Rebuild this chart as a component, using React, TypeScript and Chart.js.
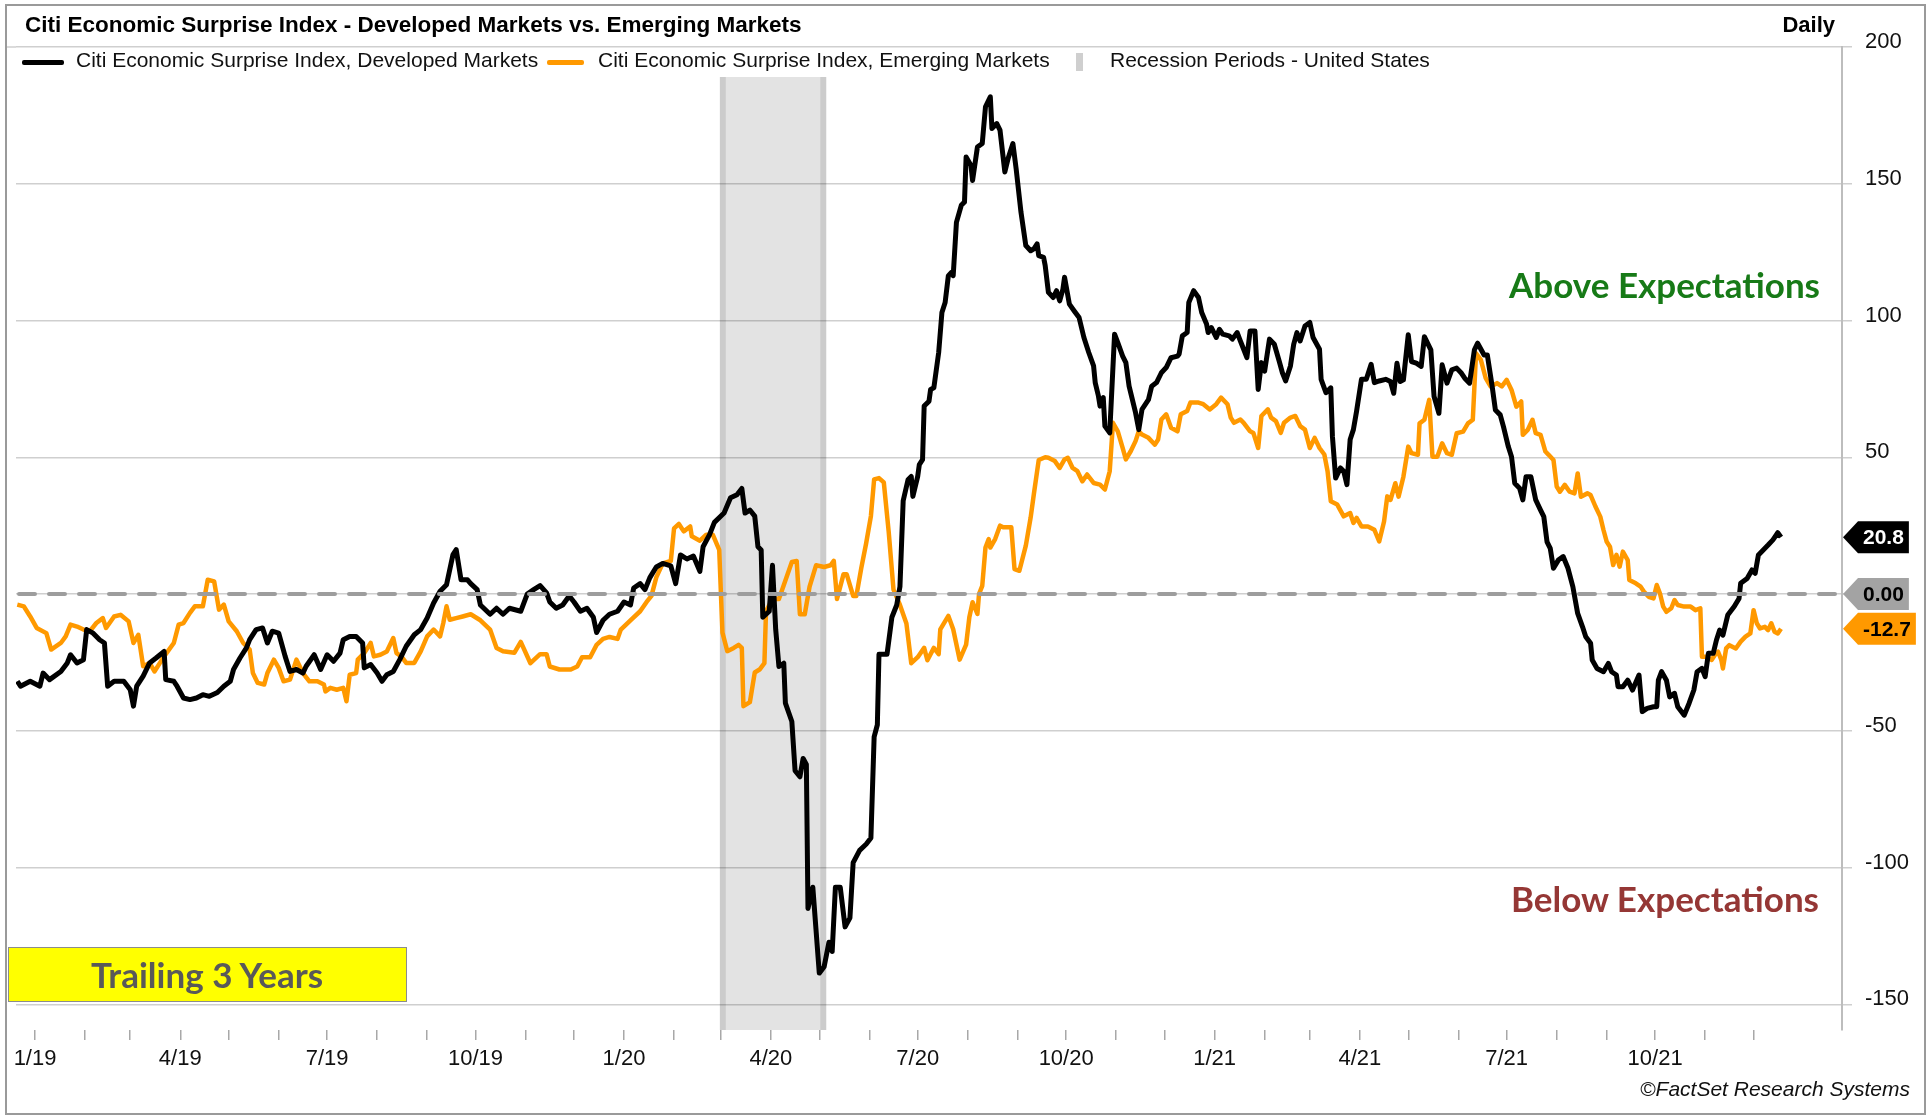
import React, { useEffect, useRef } from "react";
import { Chart, registerables } from "chart.js";

Chart.register(...registerables);

// Day offsets are counted from 2019-01-01 (day 0).
const dmDays = [
  -11, -9, -3, 3, 5, 9, 16, 20, 22, 26, 30, 32, 36, 40, 43, 45, 49, 55, 59, 61, 63, 67, 71, 75, 80, 81, 86, 88, 92, 96,
  100, 104, 108, 113, 117, 121, 123, 127, 131, 133, 137, 141, 144, 147, 151, 155, 158, 162, 166, 168, 173, 177, 181, 185, 189, 191, 195, 199, 203, 204,
  208, 212, 215, 218, 222, 226, 230, 235, 239, 243, 247, 251, 255, 259, 261, 264, 268, 270, 274, 276, 282, 286, 290, 294, 301, 305, 309, 313, 317, 319,
  323, 327, 331, 334, 338, 342, 346, 348, 352, 356, 361, 365, 369, 371, 375, 378, 381, 385, 389, 394, 397, 400, 404, 408, 412, 414, 418, 421, 427, 431,
  435, 438, 440, 443, 446, 448, 450, 451, 455, 457, 459, 461, 464, 465, 469, 471, 474, 476, 478, 479, 482, 486, 489, 492, 494, 496, 499, 502, 505, 507,
  511, 515, 518, 520, 522, 523, 528, 531, 534, 536, 538, 541, 543, 544, 547, 548, 550, 551, 554, 555, 557, 560, 562, 564, 566, 568, 569, 571, 574, 576,
  577, 580, 581, 584, 587, 589, 592, 593, 596, 598, 601, 603, 606, 608, 611, 614, 617, 619, 621, 622, 625, 626, 628, 631, 633, 635, 637, 638, 641, 644,
  647, 650, 653, 656, 657, 659, 660, 662, 663, 666, 669, 671, 674, 676, 678, 682, 684, 686, 690, 692, 695, 698, 701, 704, 708, 709, 711, 714, 715, 718,
  721, 723, 726, 727, 729, 732, 734, 736, 740, 742, 745, 747, 749, 751, 753, 756, 758, 760, 762, 765, 768, 771, 773, 775, 778, 780, 782, 784, 787, 790,
  792, 796, 797, 800, 803, 804, 806, 809, 811, 813, 815, 817, 819, 822, 825, 828, 830, 833, 837, 840, 842, 844, 846, 848, 851, 853, 856, 859, 861, 865,
  867, 870, 872, 875, 878, 881, 884, 886, 889, 892, 894, 898, 900, 903, 905, 908, 910, 913, 915, 917, 920, 922, 924, 927, 930, 933, 935, 937, 939, 941,
  944, 947, 950, 953, 956, 959, 961, 964, 965, 968, 972, 975, 977, 980, 981, 984, 987, 990, 994, 996, 999, 1003, 1005, 1006, 1008, 1011, 1013, 1016, 1018, 1022,
  1025, 1028, 1030, 1033, 1035, 1037, 1040, 1042, 1044, 1046, 1049, 1053, 1056, 1057, 1061, 1064, 1066, 1068, 1071, 1074, 1077, 1080, 1082,
];
const dmValues = [
  -31.9, -33.7, -31.9, -33.7, -28.9, -31.3, -28.3, -25.2, -22.2, -25.2, -24, -13, -14.3, -16.7, -17.9, -33.7, -31.9, -31.9, -35, -41, -33.7, -30, -25.2, -23.4, -21, -31.3, -31.9, -33.7, -38, -38.6,
  -38, -36.8, -37.4, -36, -33.7, -31.9, -27.6, -23.4, -19.7, -16.7, -13, -12.4, -17.9, -13.6, -14.3, -22.8, -28.3, -27.6, -28.9, -26.4, -22.2, -27.6, -22.2, -24.6, -21.6, -16.7, -15.5, -15.5, -17.9, -27,
  -25.8, -28.9, -31.9, -29.5, -28.3, -24, -19.1, -14.9, -13, -8.8, -3.3, 1, 3.4, 14.4, 16.2, 5.2, 5.2, 3.8, 1.6, -4, -7.4, -5.2, -7.4, -5.2, -6.3, 0, 1.6, 3.1, 0.4, -2.9,
  -5.2, -4, -0.7, -2.9, -6.3, -5.2, -8.5, -14.1, -9.6, -7.4, -6.3, -2.9, -4, 2.2, 3.8, 1.6, 6, 9.9, 11.2, 10.3, 3.8, 14.3, 12.8, 13.9, 8.3, 17.3, 21.7, 26.2, 29.6, 35.2,
  36.3, 38.6, 29.6, 30.7, 28.5, 17.3, 16.1, -8.5, -6.3, 10.5, -13, -26.5, -25.3, -39.9, -46.6, -64.6, -66.8, -60.1, -62.3, -115, -107.2, -138.6, -136.3, -127.3, -130.7, -107.2, -107.2, -121.7, -118.4, -98.2,
  -93.7, -91.5, -89.2, -52.2, -47.8, -22, -22, -8.5, -4, 2.7, 34.1, 41.8, 43, 35.7, 43, 47.3, 49.1, 68.7, 70.5, 74.8, 75.4, 88.3, 102.9, 106.6, 116.4, 117.6, 116.4, 135.9, 142.1, 143.3,
  159.8, 156.7, 151.2, 163.4, 164.7, 178.1, 181.8, 170.2, 172, 169.6, 154.3, 159.2, 164.7, 155.5, 139.6, 127.4, 125.5, 126.2, 128, 123.7, 123.1, 120.1, 110.3, 108.4, 110.9, 107.2, 111.5, 115.8, 106, 103.5,
  101.1, 93.8, 88.3, 83.4, 77.3, 72.4, 68.7, 71.8, 61.4, 58.9, 95, 91.9, 87, 84.6, 76, 66.3, 60.1, 67.5, 71.1, 76, 77.3, 80.9, 82.8, 86.4, 87, 87.7, 94.4, 95.6, 106.6, 110.9,
  108.4, 102.9, 98.7, 95.6, 97.4, 93.8, 96.8, 95, 94.4, 93.2, 95.6, 92.5, 89.5, 86.4, 96.2, 96.2, 74.8, 84.6, 81.5, 93.2, 91.3, 85.2, 80.9, 77.9, 83.4, 91.3, 95.6, 92.5, 98, 99.3,
  93.8, 89.5, 78.5, 73.6, 75.4, 57.7, 42.4, 46.1, 44.9, 40, 56.5, 60.1, 66.9, 78.5, 78.5, 84, 77.3, 77.9, 78.5, 77.7, 73.4, 84.4, 77.7, 78.3, 94.8, 85, 84.4, 83.2, 94.1, 89.3,
  72.2, 66.1, 83.8, 77.1, 82, 82.6, 80.7, 78.9, 77.1, 89.3, 91.7, 87.4, 87.4, 75.9, 67.3, 65.5, 61.2, 53.9, 50.2, 40.5, 38.7, 34.4, 42.9, 42.9, 34.4, 30.7, 28.3, 19.1, 16.7, 9.4,
  12.4, 13.7, 9.4, 2.7, -7.1, -12, -15.6, -18, -24.1, -27.2, -28.4, -25.4, -28.4, -29.6, -33.9, -33.9, -31.5, -35.1, -29.6, -43, -41.8, -41.2, -41.2, -31.5, -28.4, -31.5, -37.6, -36.3, -41.2, -44.3,
  -40, -35.1, -28.4, -27.2, -30.2, -21.7, -21.7, -16.8, -13.2, -15, -7.7, -4.6, -1.6, 3.9, 5.7, 8.8, 7.6, 14.3, 16.1, 17.9, 19.8, 22.4, 20.8,
];

const emDays = [
  -11, -7, -3, 1, 7, 10, 16, 19, 22, 26, 30, 34, 38, 42, 44, 49, 53, 58, 61, 64, 67, 71, 74, 80, 86, 89, 92, 96, 99, 104,
  107, 111, 114, 117, 120, 125, 129, 133, 135, 138, 142, 144, 148, 151, 154, 158, 162, 166, 170, 175, 179, 180, 183, 187, 191, 193, 195, 199, 200, 204,
  208, 210, 214, 218, 222, 224, 227, 230, 235, 239, 243, 247, 251, 253, 255, 257, 261, 265, 270, 276, 282, 286, 290, 297, 301, 307, 313, 317, 319, 325,
  332, 336, 339, 344, 348, 352, 356, 361, 363, 369, 375, 379, 382, 385, 389, 394, 396, 399, 402, 406, 407, 412, 416, 420, 424, 426, 429, 433, 436, 438,
  439, 443, 446, 449, 452, 453, 457, 461, 465, 469, 472, 474, 477, 480, 484, 489, 493, 495, 497, 501, 503, 507, 509, 512, 515, 518, 520, 523, 526, 529,
  532, 536, 540, 543, 547, 551, 553, 557, 560, 561, 566, 569, 573, 577, 579, 581, 584, 585, 587, 589, 591, 592, 595, 598, 600, 605, 607, 610, 614, 617,
  619, 622, 626, 628, 632, 635, 638, 640, 643, 646, 649, 652, 656, 660, 663, 666, 668, 671, 674, 676, 679, 682, 684, 686, 690, 694, 696, 698, 701, 704,
  708, 710, 714, 716, 721, 724, 728, 732, 735, 739, 741, 743, 747, 749, 753, 755, 758, 760, 764, 766, 769, 772, 774, 778, 781, 784, 787, 790, 793, 796,
  799, 801, 803, 807, 811, 815, 817, 819, 822, 826, 830, 833, 836, 838, 840, 843, 845, 848, 851, 853, 857, 858, 861, 864, 866, 869, 872, 875, 878, 881,
  885, 888, 891, 893, 896, 899, 902, 906, 909, 912, 915, 918, 921, 922, 925, 928, 930, 933, 936, 938, 941, 943, 945, 948, 951, 954, 956, 958, 962, 964,
  967, 970, 972, 974, 976, 978, 980, 982, 984, 987, 988, 992, 995, 997, 1000, 1003, 1005, 1007, 1009, 1011, 1014, 1016, 1018, 1022, 1026, 1029, 1032, 1033, 1036, 1039,
  1041, 1043, 1045, 1046, 1048, 1050, 1054, 1057, 1060, 1063, 1065, 1067, 1069, 1072, 1074, 1076, 1078, 1080, 1082,
];
const emValues = [
  -3.9, -4.5, -8.2, -12.4, -14.3, -20.3, -17.9, -15.5, -11.2, -11.9, -13, -13.6, -10.6, -8.8, -12.4, -8.2, -7.6, -10, -17.9, -14.9, -26.4, -25.2, -28.3, -22.8, -17.9, -11.2, -10.6, -6.9, -4.5, -4.5,
  5.2, 4.6, -5.7, -3.9, -10, -13.6, -17.9, -20.3, -28.9, -32.5, -33.1, -28.9, -24, -27, -31.9, -31.3, -24, -28.9, -31.9, -31.9, -33.1, -35.6, -34.3, -35, -34.3, -39.2, -29.5, -28.9, -24, -21.6,
  -17.9, -22.8, -22.2, -21, -16.1, -21.6, -22.8, -25.2, -25.2, -21, -15.5, -13, -15.5, -10.6, -4.5, -9.4, -8.8, -8.2, -7.4, -9.6, -13, -19.7, -20.9, -21.5, -17.5, -25.3, -22, -22, -26.5, -27.6,
  -27.6, -26.5, -23.1, -23.1, -18.6, -16.4, -15.7, -16.4, -13, -9.6, -6.3, -2.9, -0.7, 6.1, 11.2, 12.1, 24, 25.6, 22.9, 24.7, 21.1, 19.5, 21.7, 21.7, 16.1, -14.1, -20.9, -19.7, -18.6, -19.7,
  -41, -39.5, -28.7, -27.6, -25.3, -6.3, -1.8, -1.8, 4.9, 11.7, 12.1, -7.4, -7.4, 2.7, 10.5, 9.9, 10.5, 12.1, -1.8, 7.2, 7.2, -0.7, -0.7, 9.4, 18.4, 28.5, 41.9, 42.4, 40.8, 22.9,
  1.6, -4, -10.8, -25.3, -23.1, -19.7, -24.2, -19.7, -22, -12.9, -8, -12.9, -24, -18.5, -8.5, -3, -7.3, 0, 3, 17, 20.1, 17, 20.1, 25, 24.4, 24.4, 9.1, 8.5, 17.7, 28,
  36.6, 49, 50, 49.8, 48.6, 46.1, 49.2, 49.8, 46.1, 44.9, 41.2, 43.7, 40.6, 40, 38.2, 44.9, 62.6, 59.5, 53.4, 49.2, 52.2, 55.9, 59.5, 58.3, 57.1, 54.6, 56.5, 63.8, 65.7, 60.8,
  59.5, 65.7, 66.9, 70, 70, 69.4, 67.5, 69.4, 71.8, 69.4, 64.5, 62.6, 63.8, 62.6, 59.5, 58.9, 53.4, 65.1, 67.5, 64.5, 63.2, 58.9, 62.6, 64.5, 65.1, 61.4, 60.1, 53.4, 57.1, 53.4,
  51, 44.9, 33.9, 32.7, 28.4, 29.6, 26, 27.8, 24.7, 24.7, 23.5, 19.2, 26.5, 35.7, 34.4, 40.5, 35.6, 42.9, 53.9, 51.5, 50.9, 62.4, 63.7, 71, 50.2, 50.2, 55.1, 51.5, 50.9, 58.8,
  59.4, 62.4, 63.7, 88, 85.6, 78.9, 75.9, 77.1, 75.9, 78.3, 74.6, 68.5, 70.4, 58.2, 60, 63.7, 58.8, 58.2, 52.1, 50.9, 49, 39.3, 37.4, 39.9, 37.4, 36.8, 44.1, 35.6, 36.8, 36.2,
  32, 28.3, 23.4, 19.1, 17.3, 10.6, 14.3, 10, 15.5, 12.4, 5.1, 3.9, 2.7, 0.9, -1, -1.6, 3.3, 0.2, -4.6, -6.5, -5.2, -2.2, -4, -4.6, -4.6, -5.9, -5.2, -22.9, -22.9, -24.1,
  -22.3, -21.1, -24.1, -27.2, -19.9, -18.7, -19.9, -17.4, -15.6, -14.4, -5.9, -10.7, -12.6, -12, -13.2, -10.7, -13.8, -14.4, -12.7,
];

// Month starts (day offsets) for the x-axis ticks and their labels
const monthTickDays = [
  0, 31, 59, 90, 120, 151, 181, 212, 243, 273, 304, 334,
  365, 396, 425, 456, 486, 517, 547, 578, 609, 639, 670, 700,
  731, 762, 790, 821, 851, 882, 912, 943, 974, 1004, 1035, 1065,
];
const monthTickLabels = [
  "1/19", "", "", "4/19", "", "", "7/19", "", "", "10/19", "", "",
  "1/20", "", "", "4/20", "", "", "7/20", "", "", "10/20", "", "",
  "1/21", "", "", "4/21", "", "", "7/21", "", "", "10/21", "", "",
];
const yTickValues = [-150, -100, -50, 0, 50, 100, 150, 200];

// US recession period (day offsets): 2020-03-01 to 2020-05-01
const recessionStart = 425;
const recessionEnd = 486;

const X_MIN = -11.8;
const X_MAX = 1119.8;
const Y_MIN = -159.4;
const Y_MAX = 200;

const FONT = "'Liberation Sans', Arial, Helvetica, sans-serif";
const CAL = "Lato, 'Open Sans', sans-serif";
const DM_COLOR = "#000000";
const EM_COLOR = "#ff9900";

function toPoints(days: number[], vals: number[]) {
  return days.map((d, i) => ({ x: d, y: vals[i] }));
}

const overlayPlugin = {
  id: "overlay",
  beforeDatasetsDraw(chart: any) {
    const { ctx, chartArea, scales } = chart;
    const x0 = scales.x.getPixelForValue(recessionStart);
    const x1 = scales.x.getPixelForValue(recessionEnd);
    const top = chartArea.top + 30;
    const bottom = chartArea.bottom;
    ctx.save();
    ctx.fillStyle = "rgba(0,0,0,0.11)";
    ctx.fillRect(x0 - 1, top, x1 + 7 - (x0 - 1), bottom - top);
    ctx.fillStyle = "rgba(0,0,0,0.10)";
    ctx.fillRect(x0 - 1, top, 6, bottom - top);
    ctx.fillRect(x1 + 1, top, 6, bottom - top);
    ctx.restore();
  },
  afterDatasetsDraw(chart: any) {
    const { ctx, chartArea, scales } = chart;
    const y0 = Math.round(scales.y.getPixelForValue(0));
    ctx.save();
    ctx.strokeStyle = "#9d9d9d";
    ctx.lineWidth = 4;
    ctx.lineCap = "round";
    ctx.setLineDash([16, 14]);
    ctx.beginPath();
    ctx.moveTo(chartArea.left + 3, y0);
    ctx.lineTo(chartArea.right - 3, y0);
    ctx.stroke();
    ctx.restore();
  },
  afterDraw(chart: any) {
    const { ctx, chartArea, scales } = chart;
    ctx.save();
    // extend top grid line to the frame
    const yTop = scales.y.getPixelForValue(200);
    ctx.strokeStyle = "#cfcfcf";
    ctx.lineWidth = 1.5;
    ctx.beginPath();
    ctx.moveTo(6, yTop);
    ctx.lineTo(chartArea.left, yTop);
    ctx.stroke();

    const tip = chartArea.right + 1;
    const badge = (val: number, text: string, bg: string, fg: string) => {
      const y = scales.y.getPixelForValue(val);
      ctx.font = `bold 21px ${FONT}`;
      const tw = ctx.measureText(text).width;
      const left = tip + 20;
      const right = left + tw + 5;
      const h = 16;
      ctx.fillStyle = bg;
      ctx.beginPath();
      ctx.moveTo(tip, y);
      ctx.lineTo(tip + 15, y - h);
      ctx.lineTo(right, y - h);
      ctx.lineTo(right, y + h);
      ctx.lineTo(tip + 15, y + h);
      ctx.closePath();
      ctx.fill();
      ctx.fillStyle = fg;
      ctx.textAlign = "left";
      ctx.textBaseline = "middle";
      ctx.fillText(text, left, y + 1);
    };
    badge(0, (0).toFixed(2), "#a3a3a3", "#000");
    const emLast = emValues[emValues.length - 1];
    const dmLast = dmValues[dmValues.length - 1];
    badge(emLast, emLast.toFixed(1), EM_COLOR, "#000");
    badge(dmLast, dmLast.toFixed(1), "#000", "#fff");
    ctx.restore();
  },
};

function Txt(props: {
  x: number;
  y: number;
  anchor?: "left" | "right" | "center";
  style?: React.CSSProperties;
  children: React.ReactNode;
}) {
  const { x, y, anchor = "left", style, children } = props;
  const tx = anchor === "right" ? "-100%" : anchor === "center" ? "-50%" : "0";
  return (
    <div
      style={{
        position: "absolute",
        left: x,
        top: y,
        transform: `translate(${tx}, -50%)`,
        whiteSpace: "nowrap",
        lineHeight: 1,
        ...style,
      }}
    >
      {children}
    </div>
  );
}

export default function App() {
  const canvasRef = useRef<HTMLCanvasElement | null>(null);

  useEffect(() => {
    document.body.style.margin = "0";
    const canvas = canvasRef.current;
    if (!canvas) return;
    Chart.defaults.font.family = FONT;
    const chart = new Chart(canvas, {
      type: "line",
      data: {
        datasets: [
          {
            label: "Citi Economic Surprise Index, Developed Markets",
            data: toPoints(dmDays, dmValues),
            borderColor: DM_COLOR,
            borderWidth: 5,
            pointRadius: 0,
            tension: 0,
            borderJoinStyle: "round",
            fill: false,
          },
          {
            label: "Citi Economic Surprise Index, Emerging Markets",
            data: toPoints(emDays, emValues),
            borderColor: EM_COLOR,
            borderWidth: 4.5,
            pointRadius: 0,
            tension: 0,
            borderJoinStyle: "round",
            fill: false,
          },
        ],
      },
      options: {
        responsive: false,
        animation: false,
        events: [],
        layout: { padding: { left: 16, top: 47, right: 0, bottom: 0 } },
        plugins: {
          legend: { display: false },
          title: { display: false },
          tooltip: { enabled: false },
        },
        scales: {
          x: {
            type: "linear",
            position: "bottom",
            min: X_MIN,
            max: X_MAX,
            afterBuildTicks: (axis: any) => {
              axis.ticks = monthTickDays.map((v) => ({ value: v }));
            },
            afterFit: (axis: any) => {
              axis.height = 87;
            },
            grid: {
              drawOnChartArea: false,
              drawTicks: true,
              tickLength: 10,
              color: "#a8a8a8",
              lineWidth: 1.5,
            },
            border: { display: false },
            ticks: {
              autoSkip: false,
              maxRotation: 0,
              minRotation: 0,
              padding: 6,
              color: "#111",
              font: { size: 22, family: FONT },
              callback: (_v: any, i: number) => monthTickLabels[i] ?? "",
            },
          },
          y: {
            type: "linear",
            position: "right",
            min: Y_MIN,
            max: Y_MAX,
            afterBuildTicks: (axis: any) => {
              axis.ticks = yTickValues.map((v) => ({ value: v }));
            },
            afterFit: (axis: any) => {
              axis.width = 85;
            },
            grid: {
              color: "#cfcfcf",
              lineWidth: 1.5,
              drawTicks: true,
              tickLength: 10,
            },
            border: { display: true, color: "#bdbdbd", width: 2 },
            ticks: {
              padding: 13,
              labelOffset: -5,
              color: "#111",
              font: { size: 22, family: FONT },
              callback: (v: any) => String(v),
            },
          },
        },
      },
      plugins: [overlayPlugin],
    } as any);
    return () => chart.destroy();
  }, []);

  return (
    <div
      style={{
        position: "relative",
        width: 1927,
        height: 1117,
        overflow: "hidden",
        background: "#fff",
        fontFamily: FONT,
        color: "#111",
      }}
    >
      <canvas
        ref={canvasRef}
        width={1927}
        height={1117}
        style={{ position: "absolute", left: 0, top: 0, display: "block" }}
      />
      {/* outer frame */}
      <div
        style={{
          position: "absolute",
          left: 5,
          top: 4,
          width: 1921,
          height: 1111,
          border: "2px solid #9a9a9a",
          boxSizing: "border-box",
          pointerEvents: "none",
        }}
      />
      <Txt x={25} y={25} style={{ fontWeight: "bold", fontSize: 22.5, color: "#000" }}>
        Citi Economic Surprise Index - Developed Markets vs. Emerging Markets
      </Txt>
      <Txt x={1835} y={25} anchor="right" style={{ fontWeight: "bold", fontSize: 22, color: "#000" }}>
        Daily
      </Txt>

      {/* legend */}
      <div style={{ position: "absolute", left: 22, top: 60, width: 42, height: 5, background: DM_COLOR, borderRadius: 2 }} />
      <Txt x={76} y={59} style={{ fontSize: 21 }}>
        Citi Economic Surprise Index, Developed Markets
      </Txt>
      <div style={{ position: "absolute", left: 547, top: 60, width: 37, height: 5, background: EM_COLOR, borderRadius: 2 }} />
      <Txt x={598} y={59} style={{ fontSize: 21 }}>
        Citi Economic Surprise Index, Emerging Markets
      </Txt>
      <div style={{ position: "absolute", left: 1076, top: 53, width: 7, height: 18, background: "#cfcfcf" }} />
      <Txt x={1110} y={59} style={{ fontSize: 21 }}>
        Recession Periods - United States
      </Txt>

      {/* annotations */}
      <Txt x={1820} y={284} anchor="right" style={{ fontFamily: CAL, fontWeight: 700, fontSize: 35, color: "#177a17" }}>
        Above Expectations
      </Txt>
      <Txt x={1819} y={898} anchor="right" style={{ fontFamily: CAL, fontWeight: 700, fontSize: 35, color: "#953735" }}>
        Below Expectations
      </Txt>
      <div
        style={{
          position: "absolute",
          left: 8,
          top: 947,
          width: 399,
          height: 55,
          background: "#ffff00",
          border: "1.5px solid #8c8c8c",
          boxSizing: "border-box",
        }}
      />
      <Txt x={207} y={974} anchor="center" style={{ fontFamily: CAL, fontWeight: 700, fontSize: 35, color: "#595959" }}>
        Trailing 3 Years
      </Txt>
      <Txt x={1910} y={1088} anchor="right" style={{ fontStyle: "italic", fontSize: 21, color: "#111" }}>
        ©FactSet Research Systems
      </Txt>
    </div>
  );
}
